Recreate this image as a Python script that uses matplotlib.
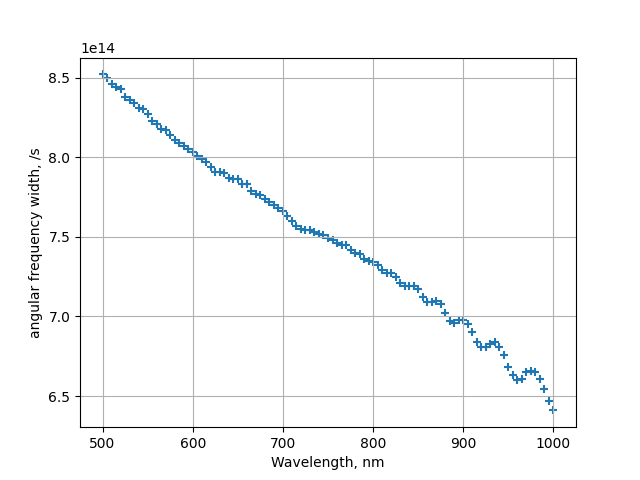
import matplotlib
matplotlib.use("Agg")
import matplotlib.pyplot as plt
import numpy as np

wavelength = list(range(500, 1001, 5))
width_e14 = [
    8.52, 8.50, 8.46, 8.44, 8.43, 8.38, 8.36, 8.34, 8.31, 8.30,
    8.27, 8.23, 8.21, 8.18, 8.17, 8.14, 8.11, 8.09, 8.07, 8.05,
    8.03, 8.01, 7.99, 7.97, 7.94, 7.91, 7.91, 7.90, 7.87, 7.86,
    7.86, 7.83, 7.83, 7.79, 7.77, 7.76, 7.74, 7.72, 7.70, 7.68,
    7.66, 7.63, 7.60, 7.57, 7.55, 7.54, 7.54, 7.53, 7.52, 7.51,
    7.49, 7.48, 7.46, 7.45, 7.45, 7.42, 7.40, 7.39, 7.36, 7.35,
    7.34, 7.32, 7.29, 7.27, 7.27, 7.25, 7.21, 7.19, 7.19, 7.19,
    7.17, 7.12, 7.09, 7.09, 7.10, 7.08, 7.02, 6.97, 6.96, 6.98,
    6.98, 6.95, 6.90, 6.84, 6.805, 6.81, 6.83, 6.84, 6.81, 6.757,
    6.68, 6.63, 6.60, 6.61, 6.65, 6.66, 6.65, 6.61, 6.546, 6.47,
    6.41,
]

x = np.array(wavelength)
y = np.array(width_e14) * 1e14

fig, ax = plt.subplots(figsize=(6.4, 4.8), dpi=100)
ax.scatter(x, y, marker='+')
ax.set_xlabel("Wavelength, nm")
ax.set_ylabel("angular frequency width, /s")
ax.grid(True)
fig.savefig("out.png")
